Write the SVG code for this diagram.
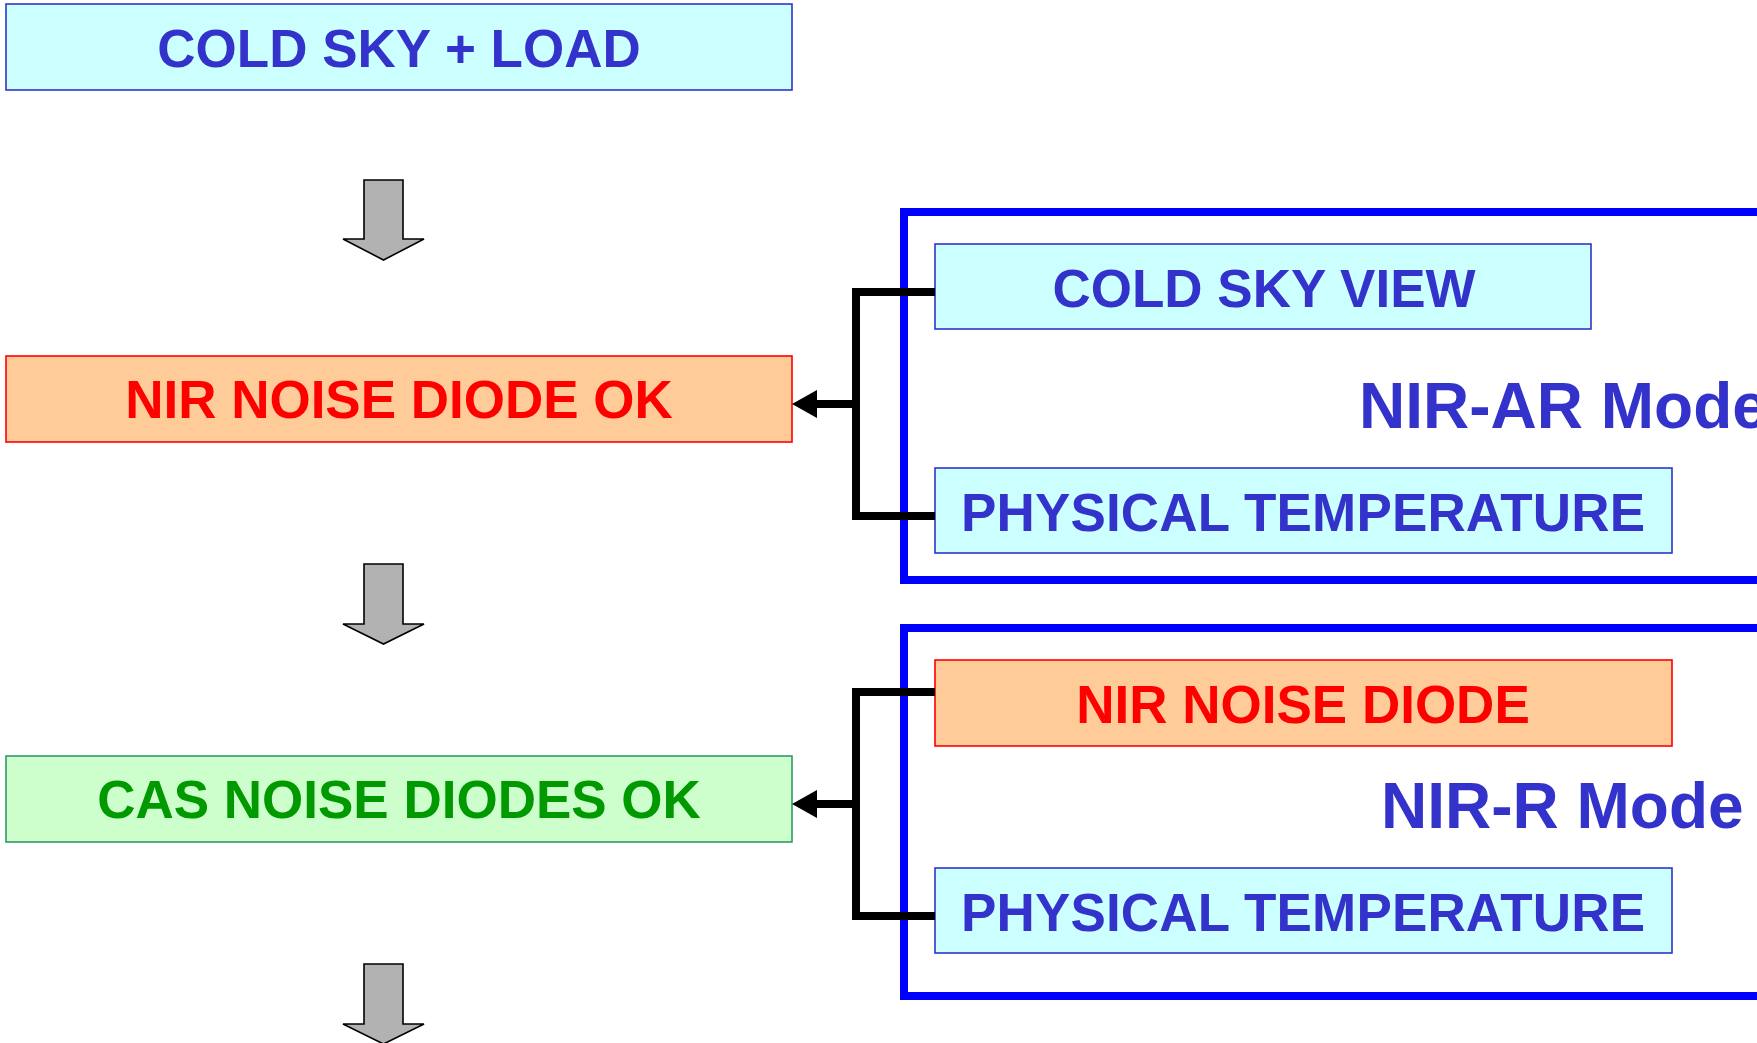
<svg xmlns="http://www.w3.org/2000/svg" width="1757" height="1043" viewBox="0 0 1757 1043">
<defs>
<style>
text{font-family:"Liberation Sans",Arial,sans-serif;font-weight:bold;}
.box{font-size:53px;text-anchor:middle;}
.mode{font-size:64px;fill:#3333CC;}
.cyan{fill:#CCFFFF;stroke:#3333CC;stroke-width:1.6;}
.orange{fill:#FFCC99;stroke:#FF0000;stroke-width:1.6;}
.green{fill:#CCFFCC;stroke:#339966;stroke-width:1.6;}
.tb{fill:#3333CC;}
.tr{fill:#FF0000;}
.tg{fill:#009900;}
.frame{fill:none;stroke:#0000FF;stroke-width:8;}
.conn{fill:none;stroke:#000;stroke-width:8;stroke-linejoin:miter;}
.block{fill:#B2B2B2;stroke:#000;stroke-width:1.6;stroke-linejoin:miter;}
</style>
<marker id="ah" markerUnits="userSpaceOnUse" markerWidth="25" markerHeight="28" viewBox="0 0 25 28" refX="10" refY="14" orient="auto">
<path d="M0,0 L25,14 L0,28 z" fill="#000"/>
</marker>
</defs>
<g id="frame-nir-ar"><rect class="frame" x="904" y="212" width="900" height="368"/><text class="mode" x="1359" y="428">NIR-AR Mode</text></g>
<g id="frame-nir-r"><rect class="frame" x="904" y="628" width="900" height="368"/><text class="mode" x="1381" y="828">NIR-R Mode</text></g>
<g id="cold-sky-load"><rect class="cyan" x="6" y="4" width="786" height="86"/><text class="box tb" x="399" y="67">COLD SKY + LOAD</text></g>
<g id="nir-noise-diode-ok"><rect class="orange" x="6" y="356" width="786" height="86"/><text class="box tr" x="399" y="418">NIR NOISE DIODE OK</text></g>
<g id="cas-noise-diodes-ok"><rect class="green" x="6" y="756" width="786" height="86"/><text class="box tg" x="399" y="818">CAS NOISE DIODES OK</text></g>
<g id="cold-sky-view"><rect class="cyan" x="935" y="244" width="656" height="85"/><text class="box tb" x="1264" y="307">COLD SKY VIEW</text></g>
<g id="physical-temperature-1"><rect class="cyan" x="935" y="468" width="737" height="85"/><text class="box tb" x="1303" y="531" textLength="684">PHYSICAL TEMPERATURE</text></g>
<g id="nir-noise-diode"><rect class="orange" x="935" y="660" width="737" height="86"/><text class="box tr" x="1303" y="723">NIR NOISE DIODE</text></g>
<g id="physical-temperature-2"><rect class="cyan" x="935" y="868" width="737" height="85"/><text class="box tb" x="1303" y="931" textLength="684">PHYSICAL TEMPERATURE</text></g>
<g id="connectors">
<polygon class="block" points="364,180 403,180 403,239 424,239 383.5,260 343,239 364,239"/>
<polygon class="block" points="364,564 403,564 403,624 424,624 383.5,644 343,624 364,624"/>
<polygon class="block" points="364,964 403,964 403,1024 424,1024 383.5,1044 343,1024 364,1024"/>
<path class="conn" d="M935,292 H856 V516 H935"/>
<path class="conn" d="M856,404 H807" marker-end="url(#ah)"/>
<path class="conn" d="M935,692 H856 V916 H935"/>
<path class="conn" d="M856,804 H807" marker-end="url(#ah)"/>
</g>
</svg>
